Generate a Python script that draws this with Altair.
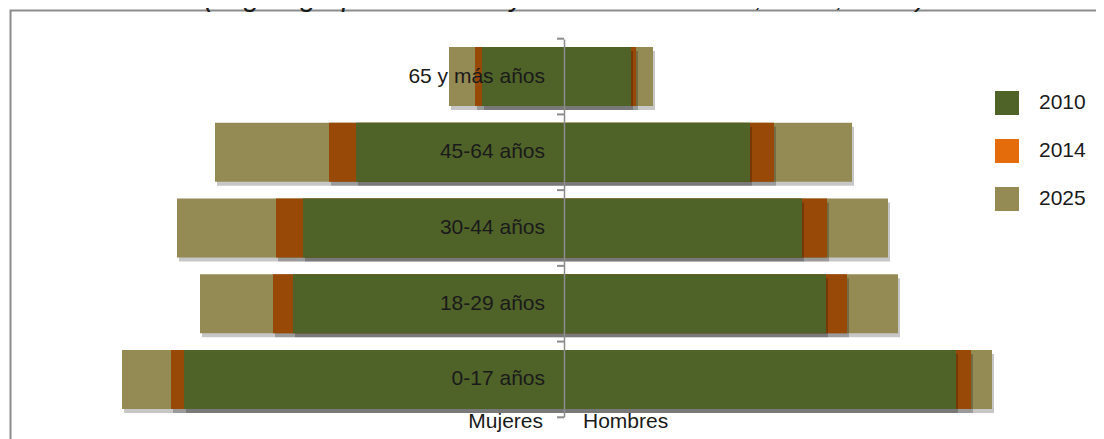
import altair as alt
import pandas as pd

# ---- data (arbitrary units) ----
grupos = ["65 y más años", "45-64 años", "30-44 años", "18-29 años", "0-17 años"]
years = ["2010", "2014", "2025"]
sexos = ["Mujeres", "Hombres"]

mujeres_2010 = [82, 208, 261, 271, 380]
mujeres_2014 = [89, 235, 288, 291, 393]
mujeres_2025 = [115, 349, 387, 364, 442]
hombres_2010 = [67, 186, 238, 262, 392]
hombres_2014 = [72, 210, 263, 283, 407]
hombres_2025 = [89, 288, 324, 334, 428]

bar_colors = ["#4F6228", "#984807", "#948A54"]
legend_colors = ["#4F6228", "#E46C0A", "#948A54"]
title_text = "(según grupos de edad y sexo. Años: 2010, 2014, 2025)"

FONT = "Liberation Sans"
AXIS_GRAY = "#8c8c8c"

series = {
    ("Mujeres", "2010"): mujeres_2010,
    ("Mujeres", "2014"): mujeres_2014,
    ("Mujeres", "2025"): mujeres_2025,
    ("Hombres", "2010"): hombres_2010,
    ("Hombres", "2014"): hombres_2014,
    ("Hombres", "2025"): hombres_2025,
}
rows = []
for (sexo, year), vals in series.items():
    for g, v in zip(grupos, vals):
        rows.append({"grupo": g, "sexo": sexo, "year": year,
                     "valor": -v if sexo == "Mujeres" else v})
df = pd.DataFrame(rows)
df_groups = pd.DataFrame({"grupo": grupos})
df_sex = pd.DataFrame({"sexo": sexos})
df_leg = pd.DataFrame({"year": years})

W, H = 1088, 431

x_scale = alt.Scale(domain=[-556, 532], nice=False, zero=False)
y_scale = alt.Scale(domain=grupos, range=[31, 409], paddingInner=0.22, paddingOuter=0.106)

y_axis = alt.Axis(title=None, labels=False, grid=False, domainColor=AXIS_GRAY,
                  ticks=False, offset=-556, domainWidth=1.5, zindex=1)


def yenc(**kw):
    return alt.Y("grupo:N", sort=grupos, scale=y_scale, axis=y_axis, **kw)


frame = alt.Chart(alt.Data(values=[{"a": 1}])).mark_rect(
    fillOpacity=0, stroke=AXIS_GRAY, strokeWidth=2
).encode(x=alt.value(2.5), x2=alt.value(1300), y=alt.value(2.5), y2=alt.value(600))

layers = [frame]
for year, col in zip(reversed(years), reversed(bar_colors)):
    d = df[df["year"] == year]
    shadow = alt.Chart(d).mark_bar(color="#000000", opacity=0.22, xOffset=2, yOffset=4).encode(
        x=alt.X("valor:Q", scale=x_scale, axis=None, stack=None),
        y=yenc(),
    )
    bar = alt.Chart(d).mark_bar(color=col, opacity=1).encode(
        x=alt.X("valor:Q", scale=x_scale, axis=None, stack=None),
        y=yenc(),
    )
    layers += [shadow, bar]

# category-boundary ticks on the central axis (pointing left)
half_gap = 0.22 * (378 / (5 - 0.22 + 2 * 0.106)) / 2
ticks_top = alt.Chart(df_groups).mark_rule(
    color=AXIS_GRAY, strokeWidth=2, yOffset=-half_gap, x2Offset=-7
).encode(x=alt.datum(0, scale=x_scale), x2=alt.datum(0), y=yenc(bandPosition=0))
ticks_end = alt.Chart(df_groups).transform_filter(
    alt.datum.grupo == grupos[-1]
).mark_rule(
    color=AXIS_GRAY, strokeWidth=2, yOffset=half_gap, x2Offset=-7
).encode(x=alt.datum(0, scale=x_scale), x2=alt.datum(0), y=yenc(bandPosition=1))

labels = alt.Chart(df_groups).mark_text(
    align="right", baseline="middle", dx=-19, fontSize=21, font=FONT, color="#1a1a1a"
).encode(x=alt.datum(0, scale=x_scale), y=yenc(), text="grupo:N")

muj = alt.Chart(df_sex).transform_filter(alt.datum.sexo == "Mujeres").mark_text(
    align="right", baseline="middle", dx=-21, fontSize=21, font=FONT, color="#1a1a1a"
).encode(x=alt.datum(0, scale=x_scale), y=alt.value(414), text="sexo:N")

hom = alt.Chart(df_sex).transform_filter(alt.datum.sexo == "Hombres").mark_text(
    align="left", baseline="middle", dx=19, fontSize=21, font=FONT, color="#1a1a1a"
).encode(x=alt.datum(0, scale=x_scale), y=alt.value(414), text="sexo:N")

title = alt.Chart(alt.Data(values=[{"t": title_text}])).mark_text(
    align="center", baseline="alphabetic", fontSize=29, fontStyle="italic", font=FONT, color="#1a1a1a"
).encode(x=alt.value(557), y=alt.value(-2), text="t:N")

legend_layer = alt.Chart(df_leg).mark_square(opacity=0, size=576).encode(
    x=alt.value(-100), y=alt.value(-100),
    color=alt.Color("year:N", sort=years,
                    scale=alt.Scale(domain=years, range=legend_colors),
                    legend=alt.Legend(title=None, orient="none", legendX=987, legendY=83,
                                      symbolType="square", symbolSize=576, symbolOpacity=1,
                                      symbolStrokeWidth=0, labelFontSize=21, labelFont=FONT,
                                      labelColor="#1a1a1a", labelOffset=20, rowPadding=24,
                                      padding=0)),
)

layers += [ticks_top, ticks_end, labels, muj, hom, title, legend_layer]

chart = alt.layer(*layers).properties(
    width=W, height=H, autosize=alt.AutoSizeParams(type="none"), padding=0
).configure_view(stroke=None)

chart.save("out.html", embed_options={"renderer": "svg", "actions": False})
